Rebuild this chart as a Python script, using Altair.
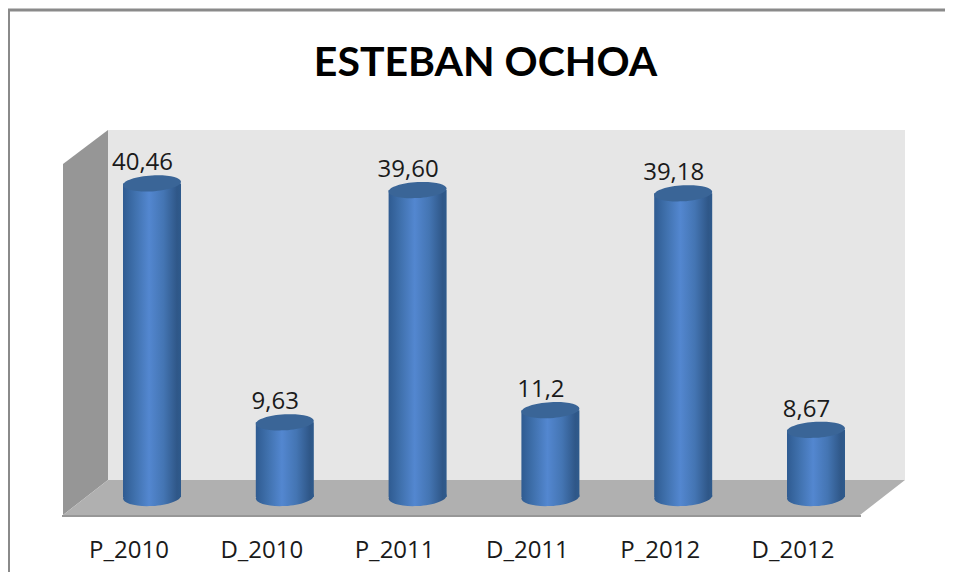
import altair as alt
import pandas as pd

title_text = "ESTEBAN OCHOA"
categories = ["P_2010", "D_2010", "P_2011", "D_2011", "P_2012", "D_2012"]
values = [40.46, 9.63, 39.60, 11.2, 39.18, 8.67]
value_labels = ["40,46", "9,63", "39,60", "11,2", "39,18", "8,67"]

FONT = "Open Sans"
BAR_W = 58
RX, RY_TOP, RY_BASE, TILT = 29, 8, 9, 0.055


def ellipse_path(rx, ry, tilt):
    k = 0.5523
    def p(x, y):
        return f"{x:.2f} {y - tilt * x:.2f}"
    return (
        f"M{p(-rx, 0)} C{p(-rx, -k * ry)} {p(-k * rx, -ry)} {p(0, -ry)} "
        f"C{p(k * rx, -ry)} {p(rx, -k * ry)} {p(rx, 0)} "
        f"C{p(rx, k * ry)} {p(k * rx, ry)} {p(0, ry)} "
        f"C{p(-k * rx, ry)} {p(-rx, k * ry)} {p(-rx, 0)} Z"
    )


df = pd.DataFrame({"category": categories, "value": values, "label": value_labels})
one = pd.DataFrame({"a": [0]})

x = alt.X(
    "category:N",
    sort=None,
    title=None,
    scale=alt.Scale(domain=categories, range=[-22.4, 774.4], paddingInner=0, paddingOuter=0),
    axis=alt.Axis(
        domain=False, ticks=False, grid=False, labelAngle=0, labelFont=FONT, labelFontSize=24,
        labelColor="#1a1a1a", labelBaseline="alphabetic", labelPadding=77, labelOffset=-23,
    ),
)
y = alt.Y("value:Q", title=None, scale=alt.Scale(domain=[0, 47.35], range=[367, 0], nice=False), axis=None)
y0 = alt.Y("base:Q", title=None, scale=alt.Scale(domain=[0, 47.35], range=[367, 0], nice=False), axis=None)

body = alt.Gradient(
    gradient="linear", x1=0, x2=1, y1=0, y2=0,
    stops=[
        alt.GradientStop(color="#2f5b91", offset=0),
        alt.GradientStop(color="#3f70ac", offset=0.2),
        alt.GradientStop(color="#5387d0", offset=0.45),
        alt.GradientStop(color="#4475b3", offset=0.7),
        alt.GradientStop(color="#2f5788", offset=0.93),
        alt.GradientStop(color="#2e5a8c", offset=1),
    ],
)

left_wall = alt.Chart(one).mark_point(
    shape="M0 0 L-45 34 L-45 385 L0 350 Z", size=4, filled=True, opacity=1, fill="#969696", strokeWidth=0
).encode(x=alt.value(0), y=alt.value(0))
floor = alt.Chart(one).mark_point(
    shape="M0 0 L797 0 L752 35 L-45 35 Z", size=4, filled=True, opacity=1, fill="#b0b0b0", strokeWidth=0
).encode(x=alt.value(0), y=alt.value(350))
floor_edge = alt.Chart(one).mark_rule(color="#979797", strokeWidth=2).encode(
    x=alt.value(-46), x2=alt.value(753), y=alt.value(386)
)
frame_top = alt.Chart(one).mark_rule(color="#8a8a8a", strokeWidth=3).encode(
    x=alt.value(-100), x2=alt.value(837), y=alt.value(-120)
)
frame_left = alt.Chart(one).mark_rule(color="#8a8a8a", strokeWidth=2).encode(
    x=alt.value(-99), y=alt.value(-121), y2=alt.value(442)
)

base_cap = alt.Chart(df).transform_calculate(base="0").mark_point(
    shape=ellipse_path(RX, RY_BASE, TILT), size=4, filled=True, opacity=1, fill=body, strokeWidth=0
).encode(x=x, y=y0)
bars = alt.Chart(df).mark_bar(size=BAR_W, fill=body).encode(x=x, y=y)
top_cap = alt.Chart(df).mark_point(
    shape=ellipse_path(RX, RY_TOP, TILT), size=4, filled=True, opacity=1, fill="#3a6597", strokeWidth=0
).encode(x=x, y=y)
labels = alt.Chart(df).mark_text(
    font=FONT, fontSize=24, color="#1a1a1a", baseline="alphabetic", dy=-13, dx=-9.5
).encode(x=x, y=y, text="label:N")

chart = (
    alt.layer(left_wall, floor, floor_edge, frame_top, frame_left, base_cap, bars, top_cap, labels)
    .properties(
        width=797,
        height=350,
        padding={"left": 100, "top": 122, "right": 40, "bottom": 92},
        autosize=alt.AutoSizeParams(type="none"),
        title=alt.TitleParams(
            text=title_text, font="Lato", fontSize=41, fontWeight="bold", color="#000000",
            anchor="middle", baseline="alphabetic", offset=-109, dx=-21,
        ),
    )
    .configure_view(fill="#e6e6e6", strokeWidth=0)
)

chart.save("out.html", embed_options={"renderer": "svg", "actions": False})
